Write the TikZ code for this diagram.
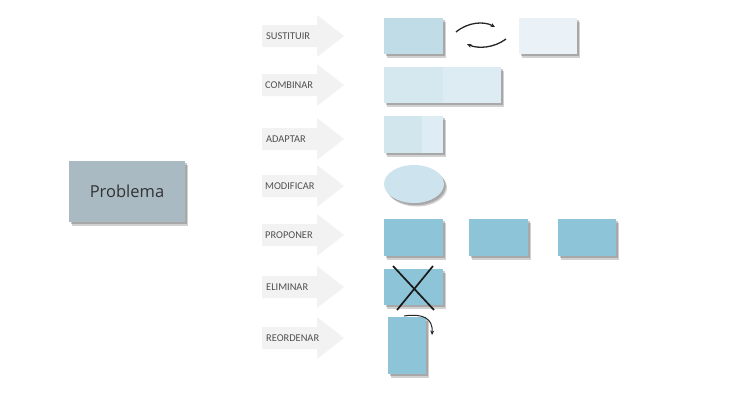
\documentclass[tikz,border=0pt]{standalone}
\usepackage{fontspec}
\setmainfont{Carlito}
\newfontfamily\probfont{Open Sans}
\usetikzlibrary{shadows,arrows.meta,shapes.geometric}
\definecolor{arrowgray}{HTML}{F2F2F2}
\definecolor{probfill}{HTML}{A9BAC3}
\definecolor{sA}{HTML}{C0DDE7}
\definecolor{sB}{HTML}{EAF2F7}
\definecolor{cL}{HTML}{D5E8EF}
\definecolor{cR}{HTML}{DCECF2}
\definecolor{aL}{HTML}{D2E6EE}
\definecolor{aR}{HTML}{DEEDF3}
\definecolor{eF}{HTML}{CDE4EE}
\definecolor{pF}{HTML}{8EC4D7}
\definecolor{lblcol}{HTML}{505050}
\tikzset{
  bigarrow/.pic={\fill[arrowgray] (0,-11) -- (55,-11) -- (55,-21) -- (82,0) -- (55,21) -- (55,11) -- (0,11) -- cycle;},
  lbl/.style={anchor=west, inner sep=0, text=lblcol, font=\fontsize{10.4bp}{12bp}\selectfont},
  shbox/.style={draw=none, inner sep=0,
    drop shadow={shadow xshift=3bp, shadow yshift=-3.5bp, opacity=0.18, fill=black},
    drop shadow={shadow xshift=1.8bp, shadow yshift=-2.2bp, opacity=0.3, fill=black!70}},
  curv/.style={line width=1.3bp, black!85, -{Stealth[length=4.5bp,width=4bp]}}
}
\begin{document}
\begin{tikzpicture}[x=1bp,y=-1bp]
\useasboundingbox (0,0) rectangle (736,414);
\fill[white] (0,0) rectangle (736,414);

% Problema
\node[shbox, fill=probfill, minimum width=116bp, minimum height=61bp, font=\probfont\fontsize{16.5bp}{20bp}\selectfont, text=black!80] (prob) at (127,191.5) {Problema};

% arrows and labels
\pic at (262,36) {bigarrow};
\node[lbl] (l1) at (266,36) {SUSTITUIR};
\pic at (262,85) {bigarrow};
\node[lbl] (l2) at (265,85) {COMBINAR};
\pic at (262,139) {bigarrow};
\node[lbl] (l3) at (266,139) {ADAPTAR};
\pic at (262,186) {bigarrow};
\node[lbl] (l4) at (265,186) {MODIFICAR};
\pic at (262,235) {bigarrow};
\node[lbl] (l5) at (265,235) {PROPONER};
\pic at (262,287) {bigarrow};
\node[lbl] (l6) at (266,287) {ELIMINAR};
\pic at (262,338) {bigarrow};
\node[lbl] (l7) at (266,338) {REORDENAR};

% SUSTITUIR
\node[shbox, fill=sA, minimum width=59bp, minimum height=36bp] (s1) at (413.5,36) {};
\node[shbox, fill=sB, minimum width=58bp, minimum height=36bp] (s2) at (548,36) {};
\coordinate (t1) at (456,32);
\coordinate (t2) at (495,27);
\coordinate (b1) at (506,39);
\coordinate (b2) at (467,44);
\draw[curv] (t1) .. controls (468,22) and (484,21) .. (t2);
\draw[curv] (b1) .. controls (494,48) and (478,49) .. (b2);

% COMBINAR
\node[shbox, fill=cR, minimum width=117bp, minimum height=36bp] (c) at (442.5,85) {};
\fill[cL] (c.north west) rectangle (c.south);

% ADAPTAR
\node[shbox, fill=aR, minimum width=59bp, minimum height=37bp] (a) at (413.5,134.5) {};
\fill[aL] (a.north west) rectangle (422,153);

% MODIFICAR
\node[shbox, ellipse, fill=eF, minimum width=60bp, minimum height=38bp] (m) at (414,184) {};

% PROPONER
\node[shbox, fill=pF, minimum width=59bp, minimum height=37bp] (p1) at (413.5,237.5) {};
\node[shbox, fill=pF, minimum width=59bp, minimum height=37bp] (p2) at (498.5,237.5) {};
\node[shbox, fill=pF, minimum width=58bp, minimum height=37bp] (p3) at (587,237.5) {};

% ELIMINAR
\node[shbox, fill=pF, minimum width=59bp, minimum height=36bp] (e) at (413.5,287) {};
\coordinate (x1) at (393,266);
\coordinate (x2) at (434,310);
\coordinate (x3) at (433,266);
\coordinate (x4) at (397,310);
\draw[line width=1.7bp, black!90] (x1) -- (x2);
\draw[line width=1.7bp, black!90] (x3) -- (x4);

% REORDENAR
\node[shbox, fill=pF, minimum width=38bp, minimum height=57bp] (r) at (407,345.5) {};
\coordinate (r1) at (404,316);
\coordinate (r2) at (432,335);
\draw[curv, line width=1bp] (r1) .. controls (424,313) and (433,319) .. (r2);
\end{tikzpicture}
\end{document}
